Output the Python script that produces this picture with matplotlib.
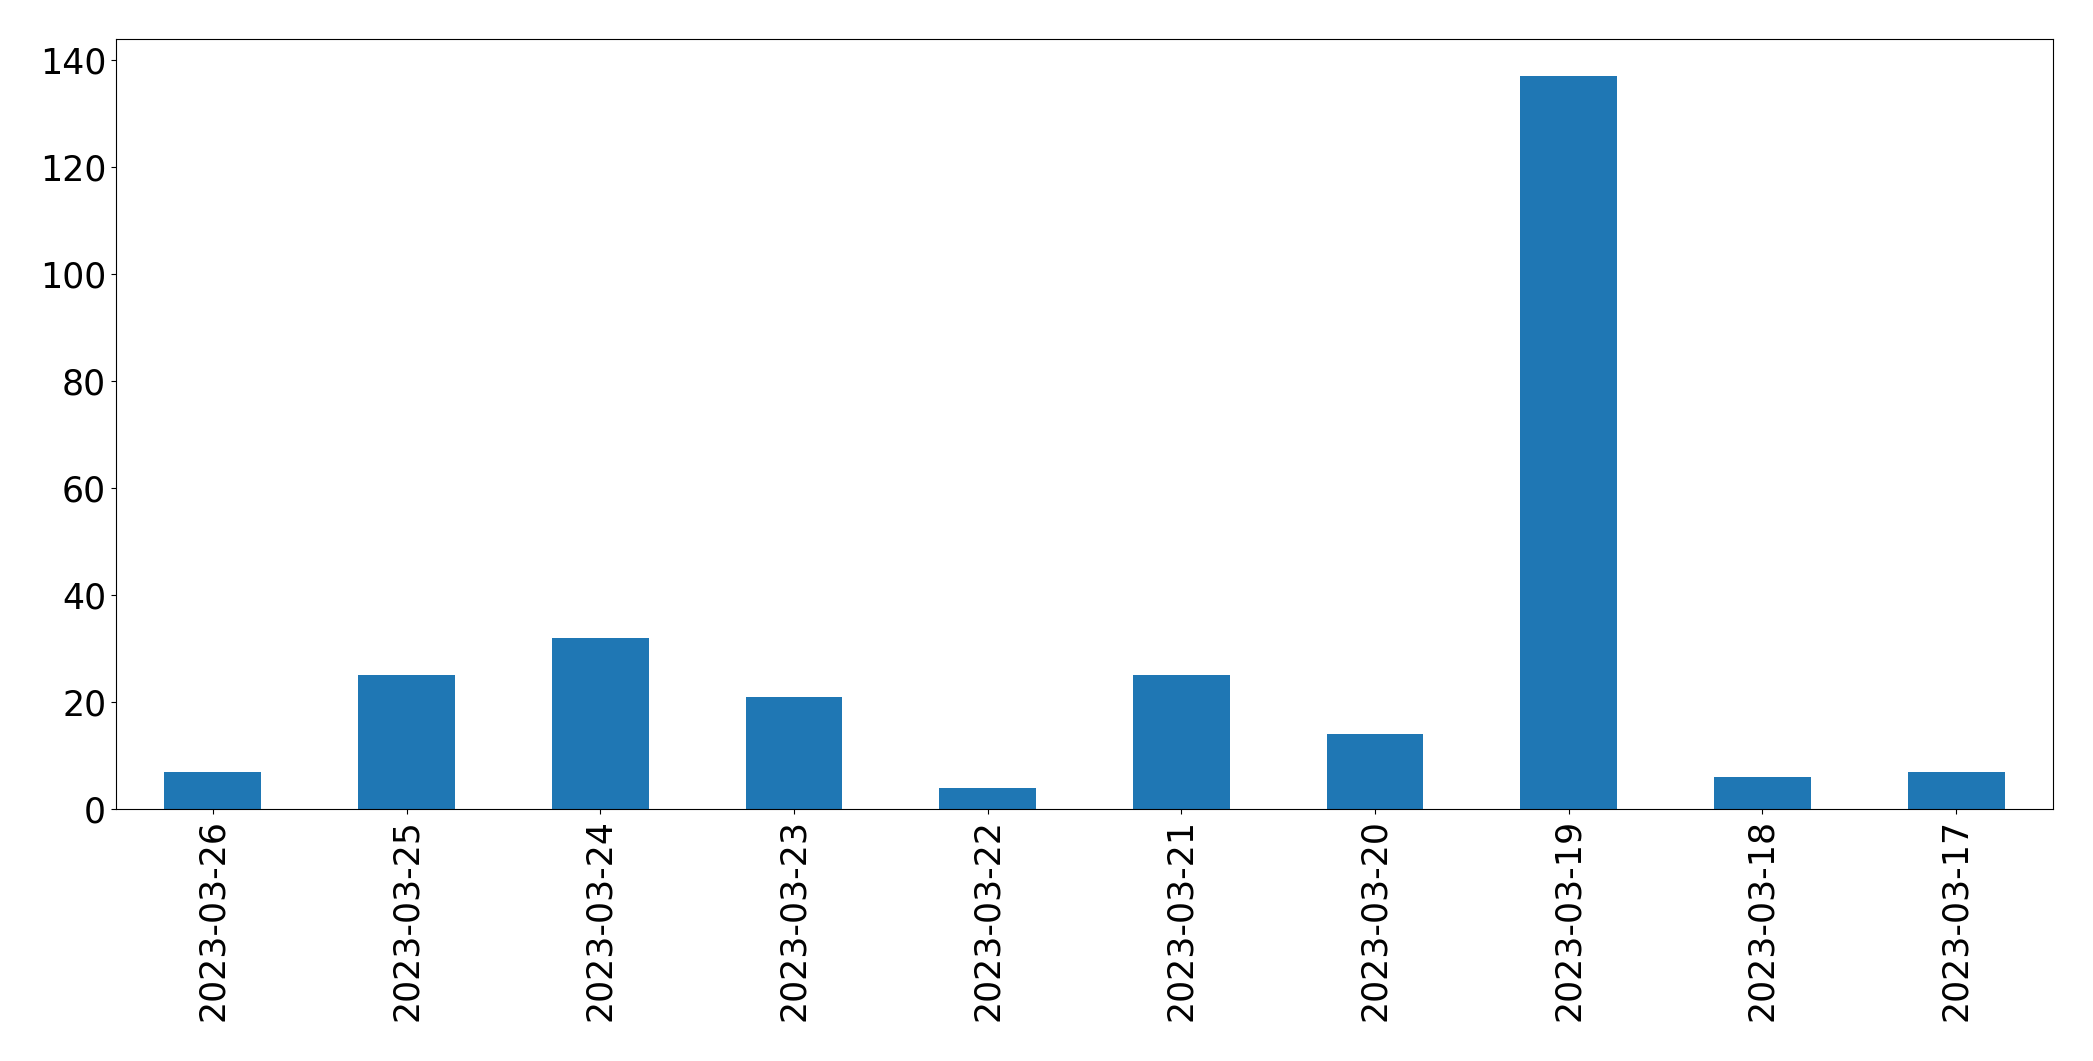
import matplotlib
matplotlib.use("Agg")
import matplotlib.pyplot as plt
import pandas as pd

dates = ["2023-03-26", "2023-03-25", "2023-03-24", "2023-03-23", "2023-03-22",
         "2023-03-21", "2023-03-20", "2023-03-19", "2023-03-18", "2023-03-17"]
counts = [7, 25, 32, 21, 4, 25, 14, 137, 6, 7]

fig = plt.figure(figsize=(20.93, 10.61), dpi=100)
ax = fig.add_axes([0.0554, 0.2375, 0.9255, 0.7253])
s = pd.Series(counts, index=dates)
s.plot.bar(ax=ax, color="#1f77b4", width=0.5)
ax.tick_params(axis="both", labelsize=25)
fig.savefig("out.png", dpi=100)
